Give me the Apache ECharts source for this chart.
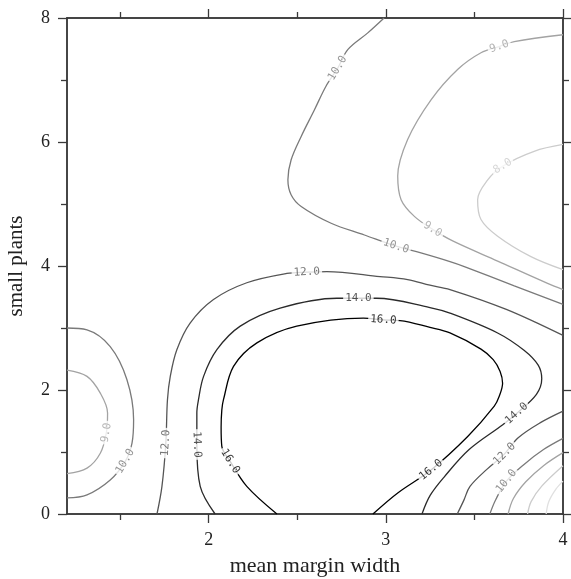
<!DOCTYPE html>
<html>
<head>
<meta charset="utf-8">
<script src="https://cdn.jsdelivr.net/npm/echarts@6/dist/echarts.min.js"></script>
<style>
  html, body { margin: 0; padding: 0; background: #fff; }
  #chart { width: 571px; height: 579px; }
</style>
</head>
<body>
<div id="chart"></div>
<script>
// contour lines, [mean margin width, small plants]
const c10top = [[2.99, 8.0], [2.898, 7.76], [2.785, 7.49], [2.728, 7.19], [2.662, 6.90], [2.597, 6.52], [2.522, 6.09], [2.465, 5.71], [2.447, 5.39], [2.465, 5.15], [2.522, 4.96], [2.691, 4.69], [2.879, 4.50], [3.057, 4.32], [3.198, 4.21], [3.362, 4.07], [3.443, 3.99], [3.725, 3.68], [4.0, 3.38]];
const c9top = [[4.0, 7.73], [3.725, 7.62], [3.64, 7.54], [3.537, 7.44], [3.405, 7.17], [3.255, 6.68], [3.123, 6.04], [3.067, 5.45], [3.086, 5.07], [3.161, 4.80], [3.264, 4.59], [3.38, 4.40], [3.631, 4.08], [3.913, 3.72], [4.0, 3.62]];
const c8top = [[4.0, 5.96], [3.837, 5.85], [3.659, 5.61], [3.575, 5.39], [3.518, 5.07], [3.537, 4.75], [3.631, 4.48], [3.819, 4.15], [4.0, 3.94]];
const c12big = [[1.708, 0], [1.736, 0.445], [1.758, 1.145], [1.767, 1.84], [1.783, 2.22], [1.82, 2.65], [1.895, 3.08], [2.027, 3.46], [2.215, 3.73], [2.441, 3.88], [2.554, 3.90], [2.667, 3.91], [2.967, 3.83], [3.123, 3.78], [3.249, 3.69], [3.362, 3.62], [3.68, 3.30], [4.0, 2.88]];
const c14 = [[2.036, 0], [1.952, 0.445], [1.933, 1.12], [1.933, 1.63], [1.942, 1.84], [1.971, 2.22], [2.046, 2.65], [2.178, 3.03], [2.403, 3.32], [2.723, 3.48], [2.845, 3.48], [2.948, 3.48], [3.249, 3.33], [3.362, 3.24], [3.631, 2.92], [3.78, 2.64], [3.86, 2.40], [3.88, 2.18], [3.85, 1.93], [3.738, 1.62], [3.66, 1.44], [3.47, 1.04], [3.33, 0.6], [3.25, 0.3], [3.204, 0]];
const c16 = [[2.385, 0], [2.215, 0.445], [2.121, 0.85], [2.074, 1.09], [2.07, 1.40], [2.074, 1.68], [2.083, 1.84], [2.14, 2.38], [2.272, 2.76], [2.497, 3.03], [2.873, 3.16], [2.986, 3.13], [3.08, 3.12], [3.249, 3.01], [3.362, 2.92], [3.537, 2.66], [3.606, 2.49], [3.645, 2.30], [3.659, 2.11], [3.64, 1.90], [3.612, 1.74], [3.462, 1.25], [3.255, 0.71], [3.067, 0.34], [2.927, 0]];
const c10left = [[1.2, 3.0], [1.313, 2.97], [1.444, 2.70], [1.538, 2.17], [1.576, 1.52], [1.567, 1.145], [1.529, 0.85], [1.444, 0.55], [1.313, 0.31], [1.2, 0.26]];
const c9left = [[1.2, 2.32], [1.313, 2.22], [1.388, 1.95], [1.429, 1.63], [1.422, 1.31], [1.388, 0.98], [1.313, 0.74], [1.2, 0.65]];
const c12corner = [[3.403, 0], [3.44, 0.22], [3.475, 0.445], [3.57, 0.72], [3.67, 0.97], [3.747, 1.23], [3.87, 1.47], [4.0, 1.66]];
const c10corner = [[3.587, 0], [3.62, 0.23], [3.681, 0.53], [3.78, 0.80], [3.89, 1.04], [4.0, 1.22]];
const c9corner = [[3.69, 0], [3.72, 0.25], [3.79, 0.52], [3.89, 0.78], [4.0, 0.99]];
const c8corner = [[3.80, 0], [3.82, 0.2], [3.88, 0.45], [4.0, 0.78]];
const c7corner = [[3.905, 0], [3.92, 0.2], [3.96, 0.4], [4.0, 0.53]];

const contours = [
  { level: 16, pts: c16 }, { level: 14, pts: c14 }, { level: 12, pts: c12big },
  { level: 12, pts: c12corner }, { level: 10, pts: c10top }, { level: 10, pts: c10left },
  { level: 10, pts: c10corner }, { level: 9, pts: c9top }, { level: 9, pts: c9left },
  { level: 9, pts: c9corner }, { level: 8, pts: c8top }, { level: 8, pts: c8corner },
  { level: 7, pts: c7corner }
];

// where the level labels sit on their lines
const labelSpots = [
  [c10top, 10, 2.728, 7.19], [c10top, 10, 3.057, 4.32],
  [c9top, 9, 3.64, 7.54], [c9top, 9, 3.264, 4.59],
  [c8top, 8, 3.659, 5.61],
  [c12big, 12, 2.554, 3.90], [c12big, 12, 1.758, 1.145], [c12corner, 12, 3.67, 0.97],
  [c14, 14, 2.845, 3.48], [c14, 14, 1.933, 1.12], [c14, 14, 3.738, 1.62],
  [c16, 16, 2.986, 3.13], [c16, 16, 2.121, 0.85], [c16, 16, 3.255, 0.71],
  [c10left, 10, 1.529, 0.85], [c9left, 9, 1.422, 1.31], [c10corner, 10, 3.681, 0.53]
];

const xMajor = [2, 3, 4];
const xMinor = [1.5, 2.5, 3.5];
const yMajor = [0, 2, 4, 6, 8];
const yMinor = [1, 3, 5, 7];

const levelColor = { 16: '#000000', 14: '#2a2a2a', 12: '#555555', 10: '#7a7a7a', 9: '#a3a3a3', 8: '#cccccc', 7: '#e0e0e0' };
const axisColor = '#3a3a3a';
const serif = 'Liberation Serif';

function makeAxis(kind, position, ticks, len, withLabels) {
  const isX = kind === 'x';
  const ax = {
    type: 'value',
    min: isX ? 1.2 : 0,
    max: isX ? 4 : 8,
    position: position,
    axisLine: { show: true, onZero: false, lineStyle: { color: axisColor, width: 1.5 } },
    axisTick: { show: true, inside: false, length: len, customValues: ticks, lineStyle: { color: axisColor, width: 1.3 } },
    axisLabel: withLabels
      ? { show: true, customValues: ticks, margin: 17, fontFamily: serif, fontSize: 18, color: '#222' }
      : { show: false },
    splitLine: { show: false }
  };
  if (withLabels) {
    ax.name = isX ? 'mean margin width' : 'small plants';
    ax.nameLocation = 'middle';
    ax.nameGap = isX ? 41 : 40;
    ax.nameTextStyle = { fontFamily: serif, fontSize: isX ? 22 : 21, color: '#222' };
  }
  return ax;
}

const chart = echarts.init(document.getElementById('chart'));

const lineSeries = contours.map(c => ({
  type: 'line',
  data: c.pts,
  smooth: 0.35,
  symbol: 'none',
  silent: true,
  lineStyle: { color: levelColor[c.level], width: 1.3 },
  z: 2
}));

chart.setOption({
  animation: false,
  backgroundColor: '#fff',
  grid: { left: 67, right: 8, top: 18, bottom: 65, outerBoundsMode: 'none' },
  xAxis: [
    makeAxis('x', 'bottom', xMajor, 9, true),
    makeAxis('x', 'bottom', xMinor, 6, false),
    makeAxis('x', 'top', xMajor, 9, false),
    makeAxis('x', 'top', xMinor, 6, false)
  ],
  yAxis: [
    makeAxis('y', 'left', yMajor, 9, true),
    makeAxis('y', 'left', yMinor, 6, false),
    makeAxis('y', 'right', yMajor, 9, false),
    makeAxis('y', 'right', yMinor, 6, false)
  ],
  series: lineSeries
});

// orient each label along its line, using pixel positions from the axes
function toPx(p) {
  return chart.convertToPixel({ xAxisIndex: 0, yAxisIndex: 0 }, p);
}
const labelData = labelSpots.map(([pts, level, x, y]) => {
  const here = toPx([x, y]);
  let best = 0, bestD = Infinity;
  pts.forEach((p, i) => {
    const q = toPx(p);
    const d = (q[0] - here[0]) ** 2 + (q[1] - here[1]) ** 2;
    if (d < bestD) { bestD = d; best = i; }
  });
  const a = toPx(pts[Math.max(0, best - 1)]);
  const b = toPx(pts[Math.min(pts.length - 1, best + 1)]);
  let ang = -Math.atan2(b[1] - a[1], b[0] - a[0]) * 180 / Math.PI;
  if (ang > 90) ang -= 180;
  if (ang < -90) ang += 180;
  return {
    value: [x, y],
    label: { rotate: ang, color: levelColor[level] },
    level: level
  };
});

chart.setOption({
  series: lineSeries.concat([{
    type: 'scatter',
    data: labelData,
    symbolSize: 0,
    silent: true,
    z: 5,
    label: {
      show: true,
      position: 'inside',
      formatter: p => p.data.level.toFixed(1),
      fontFamily: 'DejaVu Sans Mono',
      fontSize: 11,
      backgroundColor: '#fff',
      padding: [0, 2]
    }
  }])
});
</script>
</body>
</html>
